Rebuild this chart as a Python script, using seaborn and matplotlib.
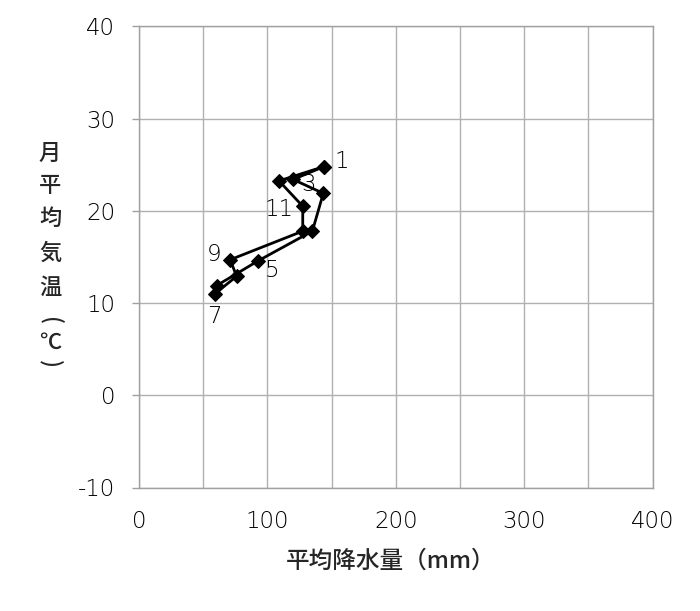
import numpy as np
import pandas as pd
import matplotlib
matplotlib.use("Agg")
import matplotlib.pyplot as plt
from matplotlib.ticker import MultipleLocator
import seaborn as sns

# monthly climate values
months = [1, 2, 3, 4, 5, 6, 7, 8, 9, 10, 11, 12]
precip = [144, 120, 143.5, 135, 93, 60.5, 59, 76, 71, 127.5, 127.5, 109]
temp = [24.8, 23.4, 21.9, 17.8, 14.6, 11.9, 11.0, 12.9, 14.7, 17.8, 20.5, 23.25]

# which months get a number, and where the number sits (offset in points)
label_months = [1, 3, 5, 7, 9, 11]
label_offsets = {1: (13, 4), 3: (-11, 6), 5: (10, -7), 7: (0, -16), 9: (-11.5, 4), 11: (-17, -2)}

xlabel = '平均降水量（mm）'
# vertical y label: character, rotation
ylabel_chars = [('月', 0), ('平', 0), ('均', 0), ('気', 0), ('温', 0),
                ('(', -90), ('℃', 0), (')', -90)]
ylabel_ypix = [153, 185, 218, 253, 287, 321, 342, 364]  # layout only

sns.set_theme(style="whitegrid")
plt.rcParams['font.family'] = ['Noto Sans CJK JP', 'DejaVu Sans']
plt.rcParams['axes.unicode_minus'] = False

num_font = dict(family='DejaVu Sans', weight='light', size=16.5)

df = pd.DataFrame({'month': months, 'precip': precip, 'temp': temp})
# close the loop back to January
df_loop = pd.concat([df, df.iloc[[0]]], ignore_index=True)

W, H = 700, 611
fig = plt.figure(figsize=(W / 100, H / 100), dpi=100)
ax = fig.add_axes([139 / W, 1 - 487.5 / H, (652.7 - 139) / W, (487.5 - 26.4) / H])

sns.lineplot(data=df_loop, x='precip', y='temp', sort=False, estimator=None,
             color='black', linewidth=2, marker='D', markersize=7,
             markeredgecolor='black', ax=ax)

for m, x, y in zip(df['month'], df['precip'], df['temp']):
    if m in label_months:
        ax.annotate(str(m), (x, y), xytext=label_offsets[m], textcoords='offset points',
                    ha='center', va='center', color='black', **num_font)

ax.set_xlim(0, 400)
ax.set_ylim(-10, 40)
ax.xaxis.set_major_locator(MultipleLocator(100))
ax.xaxis.set_minor_locator(MultipleLocator(50))
ax.yaxis.set_major_locator(MultipleLocator(10))
ax.grid(True, which='both', color='#b0b0b0', linewidth=1)
ax.set_facecolor('white')
for s in ax.spines.values():
    s.set_color('#a0a0a0')
    s.set_linewidth(1)

ax.tick_params(axis='x', which='both', length=0, pad=16.5, labelcolor='black')
ax.tick_params(axis='y', length=5, width=1, color='#a0a0a0', pad=12,
               labelcolor='black', left=True)
for lab in ax.get_xticklabels() + ax.get_yticklabels():
    lab.set_fontfamily('DejaVu Sans')
    lab.set_fontweight('light')
    lab.set_fontsize(16.5)

ax.set_xlabel(xlabel, fontsize=17, fontweight='medium', va='center')
ax.xaxis.set_label_coords(0.49, -(561 - 487.5) / (487.5 - 26.4))
ax.set_ylabel('')
for (ch, rot), yp in zip(ylabel_chars, ylabel_ypix):
    fig.text(50 / W, 1 - yp / H, ch, ha='center', va='center', rotation=rot,
             fontsize=16, fontweight='medium')

fig.savefig('out.png', dpi=100)
